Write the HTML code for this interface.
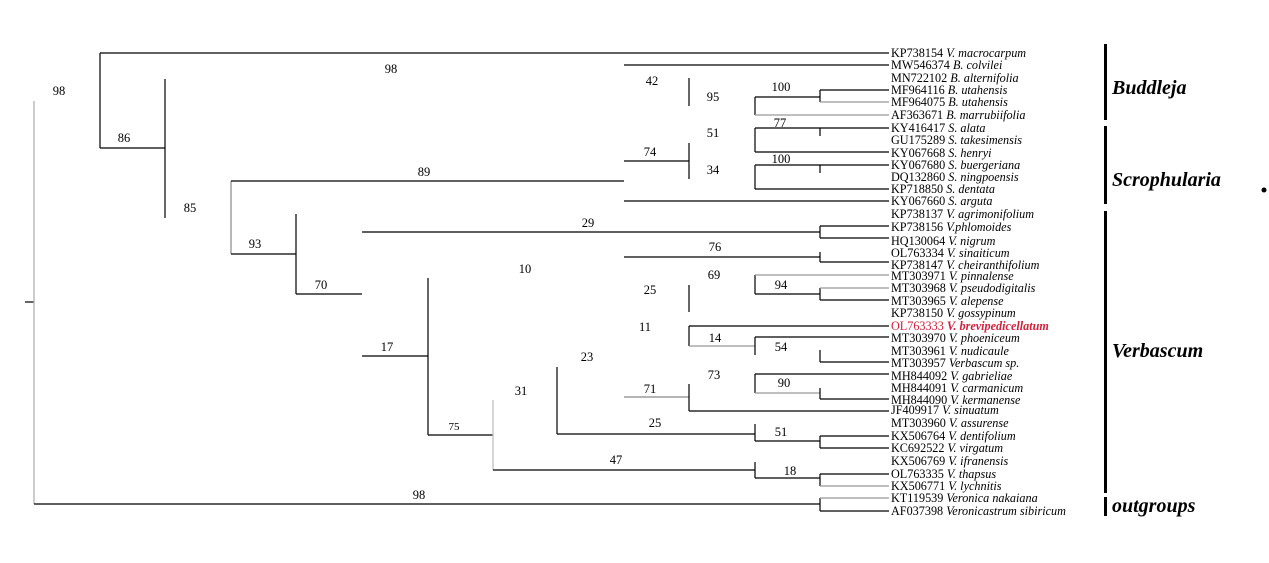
<!DOCTYPE html>
<html><head><meta charset="utf-8"><style>
html,body{margin:0;padding:0;background:#fff;}
svg{display:block;}
text{font-family:"Liberation Serif",serif;}
.n{font-size:12.5px;fill:#000;text-anchor:middle;}
.t{font-size:12.2px;fill:#000;}
.g{font-size:20px;font-weight:bold;font-style:italic;fill:#000;}
</style></head><body>
<svg width="1269" height="563" viewBox="0 0 1269 563" xmlns="http://www.w3.org/2000/svg">
<g stroke="#000" stroke-width="1.2" fill="none">
<line x1="25" y1="302" x2="34" y2="302"/>
<line x1="34" y1="101" x2="34" y2="504" stroke="#aaa"/>
<line x1="34" y1="504" x2="820" y2="504"/>
<line x1="100" y1="53" x2="100" y2="148"/>
<line x1="100" y1="53" x2="889" y2="53"/>
<line x1="100" y1="148" x2="165" y2="148"/>
<line x1="165" y1="79" x2="165" y2="218"/>
<line x1="231" y1="181" x2="231" y2="254" stroke="#888"/>
<line x1="231" y1="181" x2="624" y2="181"/>
<line x1="231" y1="254" x2="296" y2="254"/>
<line x1="296" y1="214" x2="296" y2="294"/>
<line x1="296" y1="294" x2="362" y2="294"/>
<line x1="362" y1="232" x2="820" y2="232"/>
<line x1="428" y1="278" x2="428" y2="435"/>
<line x1="362" y1="356" x2="428" y2="356"/>
<line x1="428" y1="435" x2="493" y2="435"/>
<line x1="493" y1="400" x2="493" y2="470" stroke="#bbb"/>
<line x1="493" y1="470" x2="755" y2="470"/>
<line x1="557" y1="367" x2="557" y2="434"/>
<line x1="557" y1="434" x2="755" y2="434"/>
<line x1="624" y1="65" x2="889" y2="65"/>
<line x1="689" y1="78" x2="689" y2="106"/>
<line x1="755" y1="97" x2="755" y2="115"/>
<line x1="755" y1="97" x2="820" y2="97"/>
<line x1="755" y1="115" x2="889" y2="115" stroke="#999"/>
<line x1="820" y1="90" x2="820" y2="102"/>
<line x1="820" y1="90" x2="889" y2="90"/>
<line x1="820" y1="102" x2="889" y2="102" stroke="#999"/>
<line x1="755" y1="128" x2="755" y2="152"/>
<line x1="755" y1="128" x2="889" y2="128"/>
<line x1="820" y1="128" x2="820" y2="136"/>
<line x1="755" y1="152" x2="889" y2="152"/>
<line x1="624" y1="161" x2="689" y2="161"/>
<line x1="689" y1="143" x2="689" y2="179"/>
<line x1="755" y1="165" x2="755" y2="189"/>
<line x1="755" y1="165" x2="889" y2="165"/>
<line x1="820" y1="165" x2="820" y2="173"/>
<line x1="755" y1="189" x2="889" y2="189"/>
<line x1="624" y1="201" x2="889" y2="201"/>
<line x1="820" y1="226" x2="820" y2="238"/>
<line x1="820" y1="226" x2="889" y2="226"/>
<line x1="820" y1="238" x2="889" y2="238"/>
<line x1="624" y1="257" x2="820" y2="257"/>
<line x1="820" y1="252" x2="820" y2="262"/>
<line x1="820" y1="262" x2="889" y2="262"/>
<line x1="689" y1="285" x2="689" y2="312"/>
<line x1="755" y1="275" x2="755" y2="294"/>
<line x1="755" y1="275" x2="889" y2="275" stroke="#999"/>
<line x1="755" y1="294" x2="820" y2="294"/>
<line x1="820" y1="288" x2="820" y2="300"/>
<line x1="820" y1="288" x2="889" y2="288" stroke="#999"/>
<line x1="820" y1="300" x2="889" y2="300"/>
<line x1="689" y1="326" x2="689" y2="346"/>
<line x1="689" y1="326" x2="889" y2="326"/>
<line x1="689" y1="346" x2="755" y2="346" stroke="#999"/>
<line x1="755" y1="337" x2="755" y2="355"/>
<line x1="755" y1="337" x2="889" y2="337"/>
<line x1="820" y1="350" x2="820" y2="362"/>
<line x1="820" y1="362" x2="889" y2="362"/>
<line x1="755" y1="374" x2="755" y2="393"/>
<line x1="755" y1="374" x2="889" y2="374"/>
<line x1="755" y1="393" x2="820" y2="393" stroke="#999"/>
<line x1="820" y1="388" x2="820" y2="399"/>
<line x1="820" y1="399" x2="889" y2="399"/>
<line x1="624" y1="397" x2="689" y2="397" stroke="#888"/>
<line x1="689" y1="384" x2="689" y2="411"/>
<line x1="689" y1="411" x2="889" y2="411"/>
<line x1="755" y1="424" x2="755" y2="441"/>
<line x1="755" y1="441" x2="820" y2="441"/>
<line x1="820" y1="436" x2="820" y2="448"/>
<line x1="820" y1="436" x2="889" y2="436"/>
<line x1="820" y1="448" x2="889" y2="448"/>
<line x1="755" y1="462" x2="755" y2="478"/>
<line x1="755" y1="478" x2="820" y2="478"/>
<line x1="820" y1="474" x2="820" y2="486"/>
<line x1="820" y1="474" x2="889" y2="474"/>
<line x1="820" y1="486" x2="889" y2="486" stroke="#999"/>
<line x1="820" y1="498" x2="820" y2="511"/>
<line x1="820" y1="498" x2="889" y2="498" stroke="#999"/>
<line x1="820" y1="511" x2="889" y2="511"/>
</g>
<rect x="1104" y="44" width="3" height="76" fill="#000"/>
<rect x="1104" y="126" width="3" height="78" fill="#000"/>
<rect x="1104" y="211" width="3" height="282" fill="#000"/>
<rect x="1104" y="497" width="3" height="19" fill="#000"/>
<circle cx="1264" cy="190" r="2.5" fill="#000"/>
<text class="g" x="1112" y="94">Buddleja</text>
<text class="g" x="1112" y="186">Scrophularia</text>
<text class="g" x="1112" y="357">Verbascum</text>
<text class="g" x="1112" y="512">outgroups</text>
<g class="n">
<text x="59" y="95">98</text>
<text x="124" y="142">86</text>
<text x="190" y="212">85</text>
<text x="391" y="73">98</text>
<text x="424" y="176">89</text>
<text x="255" y="248">93</text>
<text x="321" y="289">70</text>
<text x="588" y="227">29</text>
<text x="525" y="273">10</text>
<text x="387" y="351">17</text>
<text x="454" y="430" style="font-size:11px">75</text>
<text x="521" y="395">31</text>
<text x="587" y="361">23</text>
<text x="616" y="464">47</text>
<text x="655" y="427">25</text>
<text x="652" y="85">42</text>
<text x="713" y="101">95</text>
<text x="781" y="91">100</text>
<text x="713" y="137">51</text>
<text x="780" y="127">77</text>
<text x="650" y="156">74</text>
<text x="713" y="174">34</text>
<text x="781" y="163">100</text>
<text x="715" y="251">76</text>
<text x="714" y="279">69</text>
<text x="650" y="294">25</text>
<text x="781" y="289">94</text>
<text x="645" y="331">11</text>
<text x="715" y="342">14</text>
<text x="781" y="351">54</text>
<text x="714" y="379">73</text>
<text x="784" y="387">90</text>
<text x="650" y="393">71</text>
<text x="781" y="436">51</text>
<text x="790" y="475">18</text>
<text x="419" y="499">98</text>
</g>
<g class="t">
<text x="891" y="57">KP738154 <tspan font-style="italic">V. macrocarpum</tspan></text>
<text x="891" y="69">MW546374 <tspan font-style="italic">B. colvilei</tspan></text>
<text x="891" y="82">MN722102 <tspan font-style="italic">B. alternifolia</tspan></text>
<text x="891" y="94">MF964116 <tspan font-style="italic">B. utahensis</tspan></text>
<text x="891" y="106">MF964075 <tspan font-style="italic">B. utahensis</tspan></text>
<text x="891" y="119">AF363671 <tspan font-style="italic">B. marrubiifolia</tspan></text>
<text x="891" y="132">KY416417 <tspan font-style="italic">S. alata</tspan></text>
<text x="891" y="144">GU175289 <tspan font-style="italic">S. takesimensis</tspan></text>
<text x="891" y="157">KY067668 <tspan font-style="italic">S. henryi</tspan></text>
<text x="891" y="169">KY067680 <tspan font-style="italic">S. buergeriana</tspan></text>
<text x="891" y="181">DQ132860 <tspan font-style="italic">S. ningpoensis</tspan></text>
<text x="891" y="193">KP718850 <tspan font-style="italic">S. dentata</tspan></text>
<text x="891" y="205">KY067660 <tspan font-style="italic">S. arguta</tspan></text>
<text x="891" y="218">KP738137 <tspan font-style="italic">V. agrimonifolium</tspan></text>
<text x="891" y="231">KP738156 <tspan font-style="italic">V.phlomoides</tspan></text>
<text x="891" y="245">HQ130064 <tspan font-style="italic">V. nigrum</tspan></text>
<text x="891" y="257">OL763334 <tspan font-style="italic">V. sinaiticum</tspan></text>
<text x="891" y="269">KP738147 <tspan font-style="italic">V. cheiranthifolium</tspan></text>
<text x="891" y="280">MT303971 <tspan font-style="italic">V. pinnalense</tspan></text>
<text x="891" y="292">MT303968 <tspan font-style="italic">V. pseudodigitalis</tspan></text>
<text x="891" y="305">MT303965 <tspan font-style="italic">V. alepense</tspan></text>
<text x="891" y="317">KP738150 <tspan font-style="italic">V. gossypinum</tspan></text>
<text x="891" y="330" fill="#d0203a">OL763333 <tspan font-style="italic" font-weight="bold">V. brevipedicellatum</tspan></text>
<text x="891" y="342">MT303970 <tspan font-style="italic">V. phoeniceum</tspan></text>
<text x="891" y="355">MT303961 <tspan font-style="italic">V. nudicaule</tspan></text>
<text x="891" y="367">MT303957 <tspan font-style="italic">Verbascum sp.</tspan></text>
<text x="891" y="380">MH844092 <tspan font-style="italic">V. gabrieliae</tspan></text>
<text x="891" y="392">MH844091 <tspan font-style="italic">V. carmanicum</tspan></text>
<text x="891" y="404">MH844090 <tspan font-style="italic">V. kermanense</tspan></text>
<text x="891" y="414">JF409917 <tspan font-style="italic">V. sinuatum</tspan></text>
<text x="891" y="427">MT303960 <tspan font-style="italic">V. assurense</tspan></text>
<text x="891" y="440">KX506764 <tspan font-style="italic">V. dentifolium</tspan></text>
<text x="891" y="452">KC692522 <tspan font-style="italic">V. virgatum</tspan></text>
<text x="891" y="465">KX506769 <tspan font-style="italic">V. ifranensis</tspan></text>
<text x="891" y="478">OL763335 <tspan font-style="italic">V. thapsus</tspan></text>
<text x="891" y="490">KX506771 <tspan font-style="italic">V. lychnitis</tspan></text>
<text x="891" y="502">KT119539 <tspan font-style="italic">Veronica nakaiana</tspan></text>
<text x="891" y="515">AF037398 <tspan font-style="italic">Veronicastrum sibiricum</tspan></text>
</g>
</svg>
</body></html>
